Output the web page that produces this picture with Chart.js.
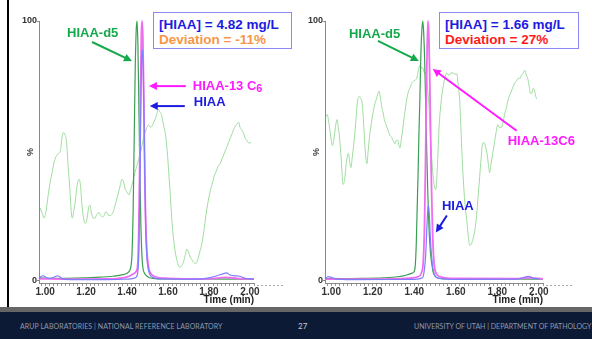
<!DOCTYPE html>
<html>
<head>
<meta charset="utf-8">
<script src="https://cdn.jsdelivr.net/npm/chart.js@4.4.0/dist/chart.umd.min.js"></script>
<style>
  body { margin: 0; width: 592px; height: 339px; overflow: hidden; background: #fff; position: relative; font-family: 'Liberation Sans', Arial, sans-serif; }
  canvas { position: absolute; top: 0; }
  #leftChart { left: 0; }
  #rightChart { left: 296px; }
  .edge { position: absolute; left: 7px; top: 0; width: 2px; height: 307px; background: #000; }
  .note { position: absolute; top: 12px; height: 37px; border: 1px solid #8a8af2; background: #fff; font-weight: bold; font-size: 13.5px; line-height: 15px; padding: 4px 0 0 5px; box-sizing: border-box; white-space: nowrap; overflow: hidden; }
  .note .conc { color: #1c1ce0; }
  .bar { position: absolute; left: 0; top: 307px; width: 592px; height: 5px; background: #666; }
  .footer { position: absolute; left: 0; top: 312px; width: 592px; height: 27px; background: #0d1a36; color: #8e97ab; font-family: Lato, 'Open Sans', sans-serif; font-size: 7px; }
  .footer span { position: absolute; top: 10px; white-space: nowrap; }
</style>
</head>
<body>
<div class="edge"></div>
<canvas id="leftChart" width="296" height="307"></canvas>
<canvas id="rightChart" width="296" height="307"></canvas>
<div class="note" style="left:153px;width:139px;">
  <div class="conc">[HIAA] = 4.82 mg/L</div>
  <div style="color:#f79646;">Deviation = -11%</div>
</div>
<div class="note" style="left:439px;width:140px;">
  <div class="conc">[HIAA] = 1.66 mg/L</div>
  <div style="color:#ff1a1a;">Deviation = 27%</div>
</div>
<div class="bar"></div>
<div class="footer">
  <span style="left:20px;letter-spacing:0.08px;">ARUP LABORATORIES | NATIONAL REFERENCE LABORATORY</span>
  <span style="left:298px;color:#c9cdd6;font-size:8px;top:9px;">27</span>
  <span style="left:414px;">UNIVERSITY OF UTAH | DEPARTMENT OF PATHOLOGY</span>
</div>

<script>
// time axis (min) and % axis
const xTickValues = [1.00, 1.20, 1.40, 1.60, 1.80, 2.00];
const yTickValues = [0, 100];

// left sample: [time, %]
const leftBackground = [[0.975,28],[0.985,26],[0.995,24],[1.005,27],[1.015,33],[1.025,38],[1.035,42],[1.045,46],[1.055,48],[1.065,49],[1.075,50],[1.082,55],[1.09,57],[1.098,56],[1.105,53],[1.112,44],[1.12,36],[1.128,26],[1.133,24],[1.14,27],[1.148,31],[1.155,36],[1.165,39],[1.172,37],[1.18,29],[1.19,23],[1.197,22],[1.205,24],[1.212,28],[1.219,29],[1.226,26],[1.235,24],[1.243,24],[1.25,25],[1.258,26],[1.265,26],[1.272,25],[1.28,24.5],[1.288,25],[1.296,26.5],[1.303,26],[1.31,25],[1.318,25],[1.326,25.5],[1.335,27],[1.345,30],[1.355,33],[1.365,36],[1.375,39],[1.383,38],[1.392,35],[1.4,34],[1.41,33],[1.418,35],[1.428,38],[1.44,42],[1.455,46],[1.468,50],[1.478,54],[1.488,57],[1.497,59],[1.505,60],[1.515,59],[1.525,60],[1.536,62],[1.545,64],[1.552,66],[1.56,65],[1.568,64],[1.578,60],[1.588,56],[1.596,50],[1.605,40],[1.612,32],[1.62,22],[1.63,14],[1.64,9],[1.65,6],[1.658,5],[1.666,5.5],[1.675,7],[1.685,10],[1.692,12],[1.7,11],[1.708,9],[1.716,8],[1.726,7],[1.736,6.5],[1.745,8],[1.755,11],[1.765,14],[1.775,19],[1.785,25],[1.795,30],[1.805,34],[1.815,37],[1.825,40],[1.835,42],[1.845,44],[1.855,45],[1.865,47],[1.875,49],[1.885,51],[1.895,53],[1.905,55],[1.915,57],[1.925,59],[1.935,60],[1.945,61],[1.952,59],[1.96,58],[1.968,57],[1.976,55],[1.985,54],[1.995,53],[2.005,53]];
const leftD5 = [[0.97,1],[1.05,0.8],[1.15,0.9],[1.25,1.2],[1.33,1.6],[1.38,2.2],[1.40,2.8],[1.41,3.5],[1.418,5],[1.424,10],[1.43,28],[1.435,55],[1.44,82],[1.445,97],[1.449,100],[1.453,91],[1.458,66],[1.463,40],[1.468,20],[1.473,9],[1.478,4.5],[1.485,2.8],[1.495,1.8],[1.51,1.0],[1.55,0.6],[2.02,0.5]];
const left13C6 = [[0.97,0.6],[1.1,0.5],[1.3,0.6],[1.38,1],[1.41,1.6],[1.43,2.5],[1.445,3.5],[1.452,6],[1.457,18],[1.462,45],[1.466,75],[1.47,95],[1.473,100],[1.477,94],[1.481,75],[1.485,50],[1.489,30],[1.494,16],[1.5,8],[1.508,4],[1.518,2.5],[1.535,1.5],[1.6,0.8],[1.8,0.6],[1.88,1.2],[1.95,0.7],[2.02,0.5]];
const leftHIAA = [[0.97,0.5],[0.98,1.5],[0.99,1.8],[1.0,1.4],[1.015,0.8],[1.03,0.9],[1.045,1.3],[1.06,1.8],[1.07,1.5],[1.085,0.6],[1.12,0.3],[1.3,0.3],[1.4,0.5],[1.44,1],[1.452,3],[1.458,12],[1.463,38],[1.467,65],[1.471,84],[1.475,89],[1.479,82],[1.483,62],[1.487,38],[1.491,20],[1.496,10],[1.502,5],[1.51,2.5],[1.525,1.2],[1.56,0.6],[1.75,0.5],[1.8,1],[1.84,1.8],[1.87,2.6],[1.887,2.9],[1.9,2.2],[1.92,1.8],[1.95,1.6],[1.975,0.9],[2.0,0.6],[2.02,0.5]];

// right sample: [time, %]
const rightBackground = [[0.975,63],[0.98,64],[0.99,60],[1.0,54],[1.006,52],[1.014,55],[1.022,60],[1.028,62],[1.034,59],[1.04,55],[1.048,47],[1.057,37],[1.065,39],[1.072,45],[1.078,48],[1.083,49],[1.09,45],[1.095,43.5],[1.102,48],[1.108,52],[1.114,57],[1.12,63],[1.125,68],[1.129,70],[1.136,71],[1.142,70],[1.148,69],[1.155,62],[1.162,52],[1.167,47],[1.172,45],[1.178,50],[1.186,56.5],[1.194,61],[1.2,64],[1.21,68],[1.218,70],[1.225,72],[1.23,73],[1.236,71],[1.243,67],[1.249,65],[1.256,62],[1.264,60],[1.273,58],[1.282,56],[1.292,55],[1.3,53.5],[1.307,52.7],[1.314,54],[1.321,54],[1.326,52],[1.331,51],[1.337,54],[1.344,58],[1.35,62],[1.355,65],[1.362,69],[1.369,72],[1.378,74],[1.388,76],[1.4,77],[1.412,78],[1.42,81],[1.427,83],[1.433,82],[1.441,82],[1.449,80],[1.456,80],[1.462,76],[1.47,68],[1.478,55],[1.486,45],[1.495,37],[1.504,35],[1.512,45],[1.52,60],[1.526,66],[1.534,72],[1.547,78],[1.556,80],[1.566,79],[1.576,80],[1.585,80],[1.596,79.5],[1.605,79.6],[1.612,75],[1.619,69],[1.626,56],[1.633,43.5],[1.64,34],[1.647,27],[1.653,23],[1.66,17],[1.667,13.5],[1.675,14],[1.683,16],[1.691,19],[1.7,25],[1.708,33],[1.715,40],[1.722,47],[1.73,53],[1.738,53],[1.745,51],[1.752,48],[1.758,44],[1.763,41.5],[1.768,44],[1.774,47],[1.778,49],[1.786,53],[1.794,57],[1.802,60],[1.81,59],[1.821,59],[1.828,61],[1.835,64],[1.845,67],[1.853,70],[1.863,72],[1.873,74],[1.883,76],[1.893,77],[1.902,78],[1.908,77.7],[1.915,79],[1.925,80],[1.932,81],[1.94,79],[1.946,78],[1.953,75],[1.96,72],[1.965,72],[1.972,74],[1.98,73],[1.985,71],[1.989,70]];
const rightD5 = [[0.97,0.8],[1.05,0.7],[1.15,0.8],[1.25,1.0],[1.32,1.4],[1.36,2.0],[1.39,2.8],[1.40,3.5],[1.405,6],[1.41,15],[1.413,25],[1.418,40],[1.422,55],[1.427,70],[1.432,88],[1.437,97],[1.441,100],[1.445,96],[1.45,85],[1.455,68],[1.46,50],[1.465,34],[1.47,22],[1.475,14],[1.48,9],[1.485,6],[1.49,3.5],[1.497,2],[1.51,1],[1.55,0.6],[2.02,0.5]];
const right13C6 = [[0.97,0.5],[1.2,0.5],[1.38,0.9],[1.42,1.5],[1.435,3],[1.443,7],[1.449,20],[1.454,45],[1.458,70],[1.462,90],[1.466,100],[1.47,95],[1.474,80],[1.478,60],[1.482,40],[1.486,25],[1.49,14],[1.495,7],[1.5,4],[1.51,2.2],[1.53,1.3],[1.6,0.8],[1.9,0.7],[1.95,1],[2.02,0.6]];
const rightHIAA = [[0.97,0.5],[0.985,1.5],[1.0,1.2],[1.02,0.6],[1.1,0.3],[1.4,0.4],[1.44,1],[1.45,5],[1.455,10],[1.46,19],[1.464,26],[1.468,29],[1.472,26],[1.476,19],[1.48,13],[1.485,8],[1.49,4.5],[1.5,1.8],[1.52,0.8],[1.6,0.4],[1.9,0.5],[1.93,1.2],[1.95,1.6],[1.97,1.0],[2.0,0.5]];

// callouts, in [time, %]
const leftLabels = [
    {text: 'HIAA-d5', at: [1.107, 95.4], color: '#14a94a'},
    {text: 'HIAA-13 C', sub: '6', at: [1.721, 74.9], color: '#ff1aff'},
    {text: 'HIAA', at: [1.726, 68.7], color: '#1c1ce0'}
];
const leftArrows = [
    {from: [1.229, 91.9], to: [1.424, 84.6], color: '#14a94a'},
    {from: [1.687, 74.9], to: [1.507, 74.9], color: '#ff1aff'},
    {from: [1.682, 67.2], to: [1.511, 67.2], color: '#1c1ce0'}
];
const rightLabels = [
    {text: 'HIAA-d5', at: [1.085, 95], color: '#14a94a'},
    {text: 'HIAA-13C6', at: [1.85, 53.5], color: '#ff1aff'},
    {text: 'HIAA', at: [1.533, 28.5], color: '#1c1ce0'}
];
const rightArrows = [
    {from: [1.225, 92.3], to: [1.422, 84.6], color: '#14a94a'},
    {from: [1.893, 57.7], to: [1.489, 81.5], color: '#ff1aff'},
    {from: [1.557, 25], to: [1.504, 18.5], color: '#1c1ce0'}
];

const baseFont = '"Liberation Sans", Arial, sans-serif';

const slideNotes = {
    id: 'slideNotes',
    afterDraw(chart, args, opts) {
        let ctx = chart.ctx;
        let x = chart.scales.x, y = chart.scales.y;
        let area = chart.chartArea;
        ctx.save();
        // dotted tail past the end of the time axis
        ctx.strokeStyle = '#aaa';
        ctx.lineWidth = 1;
        ctx.setLineDash([2, 2]);
        ctx.beginPath();
        ctx.moveTo(area.right + 3, area.bottom + 2.5);
        ctx.lineTo(area.right + opts.tail, area.bottom + 2.5);
        ctx.stroke();
        ctx.setLineDash([]);

        opts.arrows.forEach(a => {
            let x1 = x.getPixelForValue(a.from[0]), y1 = y.getPixelForValue(a.from[1]);
            let x2 = x.getPixelForValue(a.to[0]), y2 = y.getPixelForValue(a.to[1]);
            let ang = Math.atan2(y2 - y1, x2 - x1);
            let c = Math.cos(ang), s = Math.sin(ang);
            ctx.strokeStyle = a.color;
            ctx.fillStyle = a.color;
            ctx.lineWidth = 2;
            ctx.beginPath();
            ctx.moveTo(x1, y1);
            ctx.lineTo(x2 - 6 * c, y2 - 6 * s);
            ctx.stroke();
            ctx.beginPath();
            ctx.moveTo(x2, y2);
            ctx.lineTo(x2 - 8 * c + 4 * s, y2 - 8 * s - 4 * c);
            ctx.lineTo(x2 - 8 * c - 4 * s, y2 - 8 * s + 4 * c);
            ctx.closePath();
            ctx.fill();
        });

        opts.labels.forEach(l => {
            let px = x.getPixelForValue(l.at[0]), py = y.getPixelForValue(l.at[1]);
            ctx.font = 'bold 13px ' + baseFont;
            ctx.fillStyle = l.color;
            ctx.textAlign = 'left';
            ctx.textBaseline = 'middle';
            ctx.fillText(l.text, px, py);
            if (l.sub) {
                let w = ctx.measureText(l.text).width;
                ctx.font = 'bold 11px ' + baseFont;
                ctx.fillText(l.sub, px + w, py + 3);
            }
        });
        ctx.restore();
    }
};

function minorTicks() {
    const ticks = [];
    for (let i = 49; i <= 101; i++) {
        ticks.push({value: i / 50});
    }
    return ticks;
}

function buildChromatogram(id, series, labels, arrows, yWidth, rightPad) {
    let ctx = document.getElementById(id);
    return new Chart(ctx, {
        type: 'line',
        data: {
            datasets: [
                {label: 'HIAA', data: series[0], borderColor: '#7d7dff', borderWidth: 1.2},
                {label: 'HIAA-13C6', data: series[1], borderColor: '#f06cf0', borderWidth: 1.8},
                {label: 'HIAA-d5', data: series[2], borderColor: '#3c9e55', borderWidth: 1.2},
                {label: 'background', data: series[3], borderColor: '#9fdc9f', borderWidth: 1}
            ].map(d => Object.assign(d, {pointRadius: 0, cubicInterpolationMode: 'monotone', clip: false}))
        },
        options: {
            responsive: false,
            animation: false,
            layout: {padding: {top: 21, left: 0, right: rightPad, bottom: 0}},
            plugins: {
                legend: {display: false},
                tooltip: {enabled: false},
                slideNotes: {labels: labels, arrows: arrows, tail: 30}
            },
            scales: {
                x: {
                    type: 'linear',
                    min: 0.97,
                    max: 2.02,
                    afterBuildTicks: s => { s.ticks = minorTicks(); },
                    afterFit: s => { s.height = 24; },
                    ticks: {
                        autoSkip: false,
                        maxRotation: 0,
                        padding: 0,
                        color: '#333',
                        font: {family: baseFont, size: 10, weight: 'bold'},
                        callback: v => {
                            let hit = xTickValues.find(t => Math.abs(t - v) < 0.001);
                            return hit === undefined ? '' : hit.toFixed(2);
                        }
                    },
                    grid: {drawOnChartArea: false, tickLength: 3, color: '#999'},
                    border: {color: '#888'},
                    title: {
                        display: true,
                        text: 'Time (min)',
                        align: 'end',
                        color: '#222',
                        font: {family: baseFont, size: 10, weight: 'bold'},
                        padding: {top: 0, bottom: 1}
                    }
                },
                y: {
                    min: -1,
                    max: 100,
                    afterBuildTicks: s => { s.ticks = yTickValues.map(v => ({value: v})); },
                    afterFit: s => { s.width = yWidth; },
                    ticks: {
                        padding: 0,
                        color: '#333',
                        font: {family: baseFont, size: 9, weight: 'bold'}
                    },
                    grid: {drawOnChartArea: false, tickLength: 2, color: '#888'},
                    border: {color: '#888'},
                    title: {
                        display: true,
                        text: '%',
                        color: '#444',
                        font: {family: baseFont, size: 9, weight: 'bold'},
                        padding: {top: yWidth - 14, bottom: 0}
                    }
                }
            }
        },
        plugins: [slideNotes]
    });
}

buildChromatogram('leftChart', [leftHIAA, left13C6, leftD5, leftBackground], leftLabels, leftArrows, 39, 42);
buildChromatogram('rightChart', [rightHIAA, right13C6, rightD5, rightBackground], rightLabels, rightArrows, 29, 49);
</script>
</body>
</html>
